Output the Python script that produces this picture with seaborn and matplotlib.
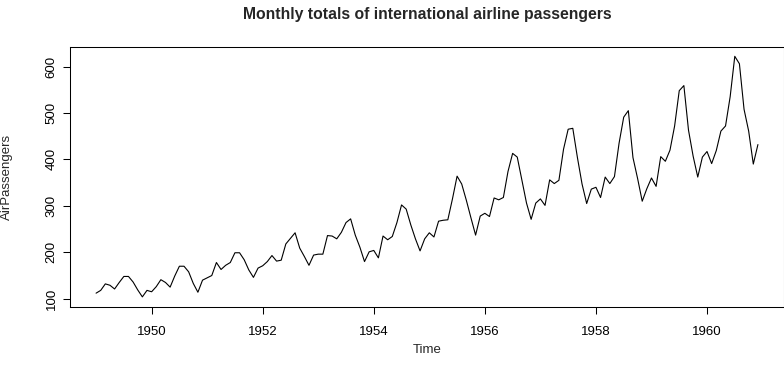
import matplotlib
matplotlib.use("Agg")
import matplotlib.pyplot as plt
import numpy as np
import pandas as pd
import seaborn as sns

# Monthly totals of international airline passengers (thousands), Jan..Dec
months = ["Jan", "Feb", "Mar", "Apr", "May", "Jun",
          "Jul", "Aug", "Sep", "Oct", "Nov", "Dec"]
passengers_1949 = [112, 118, 132, 129, 121, 135, 148, 148, 136, 119, 104, 118]
passengers_1950 = [115, 126, 141, 135, 125, 149, 170, 170, 158, 133, 114, 140]
passengers_1951 = [145, 150, 178, 163, 172, 178, 199, 199, 184, 162, 146, 166]
passengers_1952 = [171, 180, 193, 181, 183, 218, 230, 242, 209, 191, 172, 194]
passengers_1953 = [196, 196, 236, 235, 229, 243, 264, 272, 237, 211, 180, 201]
passengers_1954 = [204, 188, 235, 227, 234, 264, 302, 293, 259, 229, 203, 229]
passengers_1955 = [242, 233, 267, 269, 270, 315, 364, 347, 312, 274, 237, 278]
passengers_1956 = [284, 277, 317, 313, 318, 374, 413, 405, 355, 306, 271, 306]
passengers_1957 = [315, 301, 356, 348, 355, 422, 465, 467, 404, 347, 305, 336]
passengers_1958 = [340, 318, 362, 348, 363, 435, 491, 505, 404, 359, 310, 337]
passengers_1959 = [360, 342, 406, 396, 420, 472, 548, 559, 463, 407, 362, 405]
passengers_1960 = [417, 391, 419, 461, 472, 535, 622, 606, 508, 461, 390, 432]

by_year = {
    1949: passengers_1949, 1950: passengers_1950, 1951: passengers_1951,
    1952: passengers_1952, 1953: passengers_1953, 1954: passengers_1954,
    1955: passengers_1955, 1956: passengers_1956, 1957: passengers_1957,
    1958: passengers_1958, 1959: passengers_1959, 1960: passengers_1960,
}
x_ticks = [1950, 1952, 1954, 1956, 1958, 1960]
y_ticks = [100, 200, 300, 400, 500, 600]

rows = []
for year, values in by_year.items():
    for m, v in enumerate(values):
        rows.append({"Time": year + m / 12.0, "AirPassengers": v})
df = pd.DataFrame(rows)

sns.set_theme(style="ticks", rc={
    "axes.edgecolor": "black",
    "axes.linewidth": 0.75,
    "xtick.color": "black",
    "ytick.color": "black",
    "xtick.major.size": 5,
    "ytick.major.size": 5,
    "xtick.major.width": 0.75,
    "ytick.major.width": 0.75,
})
plt.rcParams["font.family"] = ["Liberation Sans", "DejaVu Sans"]

fig = plt.figure(figsize=(7.84, 3.68), dpi=100)
W, H = 784.0, 368.0
left, right, top, bottom = 69.6, 784.4, 46.7, 306.5
ax = fig.add_axes([left / W, (H - bottom) / H, (right - left) / W, (bottom - top) / H])

sns.lineplot(data=df, x="Time", y="AirPassengers", ax=ax,
             color="black", linewidth=0.8)

# R-style 4% range extension
t0, t1 = df["Time"].min(), df["Time"].max()
v0, v1 = df["AirPassengers"].min(), df["AirPassengers"].max()
ax.set_xlim(t0 - 0.04 * (t1 - t0), t1 + 0.04 * (t1 - t0))
ax.set_ylim(v0 - 0.04 * (v1 - v0), v1 + 0.04 * (v1 - v0))

ax.set_xticks(x_ticks)
ax.set_xticklabels([str(t) for t in x_ticks], fontsize=9.5)
ax.set_yticks(y_ticks)
ax.set_yticklabels([str(t) for t in y_ticks], fontsize=9.5,
                   rotation=90, va="center")
ax.tick_params(axis="x", pad=9)
ax.tick_params(axis="y", pad=3.5)

for s in ax.spines.values():
    s.set_visible(True)

ax.set_xlabel("Time", fontsize=9.5, va="center")
ax.xaxis.set_label_coords(0.5, -(350 - bottom) / (bottom - top))
ax.set_ylabel("AirPassengers", fontsize=9.5, va="center")
ax.yaxis.set_label_coords(-(left - 7) / (right - left), 0.5)

fig.text((left + right) / 2 / W, (H - 19) / H,
         "Monthly totals of international airline passengers",
         ha="center", va="baseline", fontsize=11.3, fontweight="bold")

fig.savefig("out.png", dpi=100)
